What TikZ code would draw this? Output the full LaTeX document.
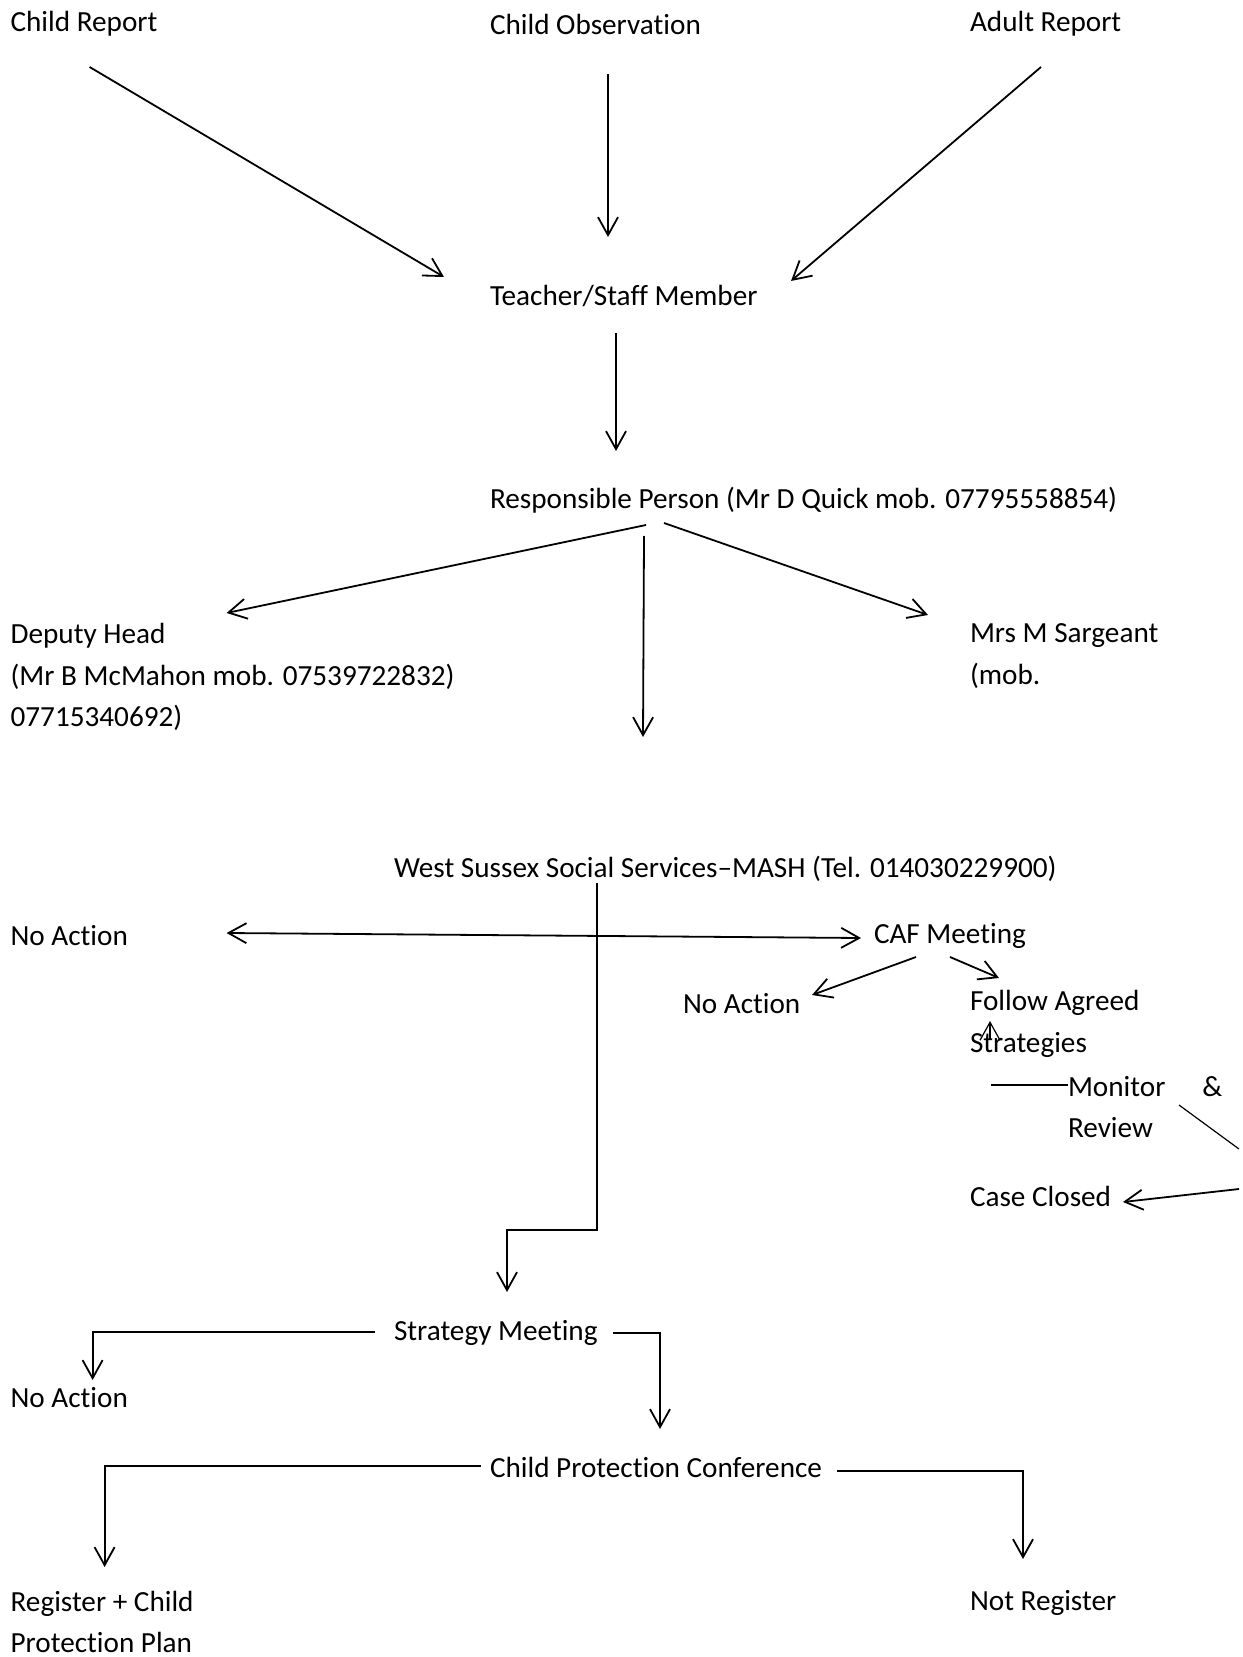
\documentclass[tikz,border=0pt]{standalone}
\usepackage{fontspec}
\setmainfont{Carlito}[Ligatures=CommonOff]
\usepackage{tikz}
\usetikzlibrary {arrows.meta}
\tikzset{feld/.style = {
anchor=west, inner sep=0pt, outer sep=0pt, align=left, font=\fontsize{14.6}{20.85}\selectfont
}}
\tikzset{pfeil/.style = {-{Straight Barb[length=9pt,width=10pt]}, line width=0.9pt}}
\tikzset{dpfeil/.style = {pfeil, {Straight Barb[length=9pt,width=10pt]}-{Straight Barb[length=9pt,width=10pt]}}}
\tikzset{duenn/.style = {line width=0.6pt}}

\begin{document}
\begin{tikzpicture}[x=0.5pt,y=-0.5pt]
\useasboundingbox (0,0) rectangle (1242,1657);

\node[feld] (crep) at (10.6,24){Child Report};
\node[feld] (cobs) at (490,24){Child Observation};
\node[feld] (arep) at (970,24){Adult Report};
\node[feld] (teach) at (490,296){Teacher/Staff Member};
\node[feld] (resp) at (490,500){Responsible Person (Mr D Quick mob. 07795558854)};
\node[feld] (dep) at (10.6,677){Deputy Head\\(Mr B McMahon mob. 07539722832)\\07715340692)};
\node[feld] (sarg) at (970,656){Mrs M Sargeant\\(mob.};
\node[feld] (mash) at (394,869){West Sussex Social Services--MASH (Tel. 014030229900)};
\node[feld] (noact) at (10.6,936){No Action};
\node[feld] (caf) at (874,936){CAF Meeting};
\node[feld] (noactb) at (683,1004){No Action};
\node[feld] (follow) at (970,1024){Follow Agreed\\Strategies};
\node[feld] (monitor) at (1068,1107){Monitor\hspace{18.5pt}\&\\Review};
\node[feld] (closed) at (970,1196){Case Closed};
\node[feld] (strat) at (394,1333){Strategy Meeting};
\node[feld] (noactc) at (10.6,1398){No Action};
\node[feld] (cpc) at (490,1467){Child Protection Conference};
\node[feld] (reg) at (10.6,1622){Register + Child\\Protection Plan};
\node[feld] (notreg) at (970,1603){Not Register};

\draw [pfeil] ([shift={(79,43)}]crep.west) -- ([shift={(-46,-19)}]teach.west);
\draw [pfeil] ([shift={(118,50)}]cobs.west) -- ([shift={(118,-59)}]teach.west);
\draw [pfeil] ([shift={(71,43)}]arep.west) -- ([shift={(301,-15)}]teach.west);
\draw [pfeil] ([shift={(126,37)}]teach.west) -- ([shift={(126,-49)}]resp.west);

\draw [pfeil] ([shift={(156,25)}]resp.west) -- ([shift={(216,-64)}]dep.west);
\draw [pfeil] ([shift={(154,36)}]resp.west) -- ([shift={(249,-132)}]mash.west);
\draw [pfeil] ([shift={(174,23)}]resp.west) -- ([shift={(-42,-41)}]sarg.west);

\draw [dpfeil] ([shift={(216,-3)}]noact.west) -- ([shift={(-13,2)}]caf.west);
\draw [pfeil] ([shift={(203,14)}]mash.west) -- ++(0,347) -| ([shift={(113,-41)}]strat.west);

\draw [pfeil] ([shift={(42,21)}]caf.west) -- ([shift={(129,-9)}]noactb.west);
\draw [pfeil] ([shift={(76,21)}]caf.west) -- ([shift={(29,-46)}]follow.west);
\draw [pfeil,duenn] ([shift={(20,16)}]follow.west) -- ([shift={(20,-3)}]follow.west);
\draw [duenn] ([shift={(0,-22)}]monitor.west) -- ++(-77,0);
\draw [duenn] ([shift={(111,-2)}]monitor.west) -- ++(60,44);
\draw [pfeil] ([shift={(269,-7)}]closed.west) -- ([shift={(153,6)}]closed.west);

\draw [pfeil] ([shift={(-19,-1)}]strat.west) -| ([shift={(82,-18)}]noactc.west);
\draw [pfeil] ([shift={(219,0)}]strat.west) -| ([shift={(170,-38)}]cpc.west);
\draw [pfeil] ([shift={(-9,-1)}]cpc.west) -| ([shift={(94,-55)}]reg.west);
\draw [pfeil] ([shift={(347,4)}]cpc.west) -| ([shift={(53,-44)}]notreg.west);

\end{tikzpicture}
\end{document}
